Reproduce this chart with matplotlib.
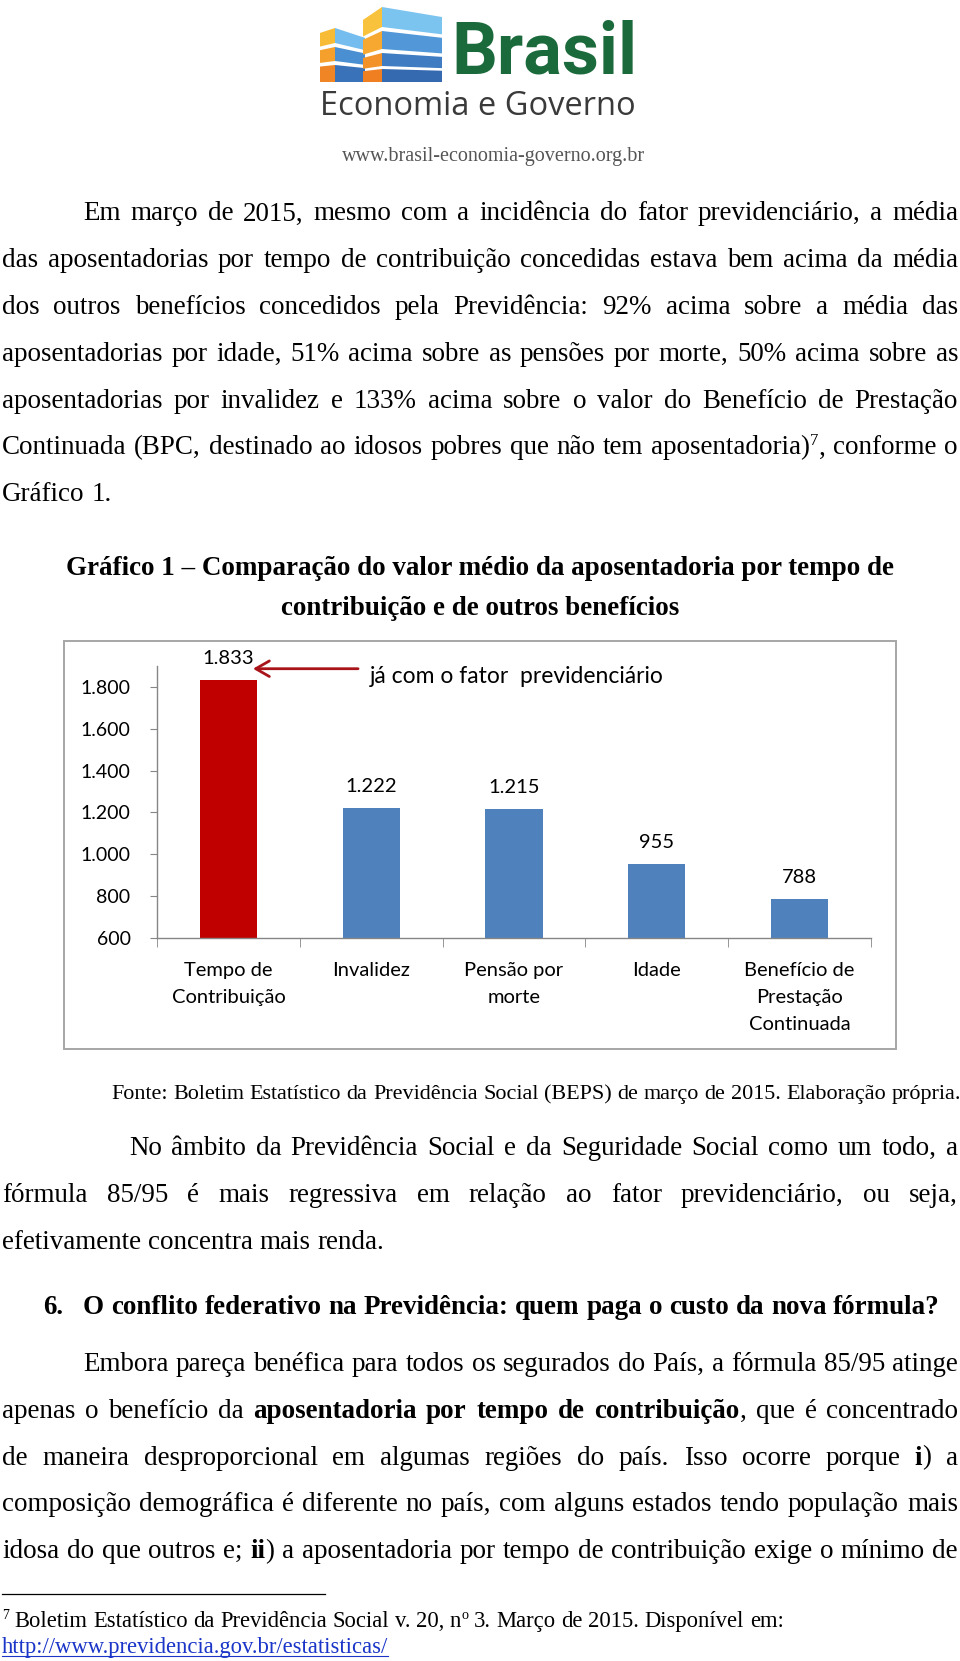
import re

import matplotlib
matplotlib.use("Agg")
import matplotlib.pyplot as plt
from matplotlib.patches import Polygon, Rectangle
from matplotlib.lines import Line2D
from matplotlib.ticker import FuncFormatter

W, H = 960, 1661

# chart data
categories = ["Tempo de\nContribuição", "Invalidez", "Pensão por\nmorte",
              "Idade", "Benefício de\nPrestação\nContinuada"]
values = [1833, 1222, 1215, 955, 788]
bar_colors = ["#c00000", "#4f81bd", "#4f81bd", "#4f81bd", "#4f81bd"]
y_ticks = [600, 800, 1000, 1200, 1400, 1600, 1800]
note = "já com o fator  previdenciário"

# page text (** toggles bold, ^x is superscript)
para1 = [
    "Em março de 2015, mesmo com a incidência do fator previdenciário, a média",
    "das aposentadorias por tempo de contribuição concedidas estava bem acima da média",
    "dos outros benefícios concedidos pela Previdência: 92% acima sobre a média das",
    "aposentadorias por idade, 51% acima sobre as pensões por morte, 50% acima sobre as",
    "aposentadorias por invalidez e 133% acima sobre o valor do Benefício de Prestação",
    "Continuada (BPC, destinado ao idosos pobres que não tem aposentadoria)^7, conforme o",
    "Gráfico 1.",
]
title_lines = ["Gráfico 1 – Comparação do valor médio da aposentadoria por tempo de",
               "contribuição e de outros benefícios"]
fonte = "Fonte: Boletim Estatístico da Previdência Social (BEPS) de março de 2015. Elaboração própria."
para2 = [
    "No âmbito da Previdência Social e da Seguridade Social como um todo, a",
    "fórmula 85/95 é mais regressiva em relação ao fator previdenciário, ou seja,",
    "efetivamente concentra mais renda.",
]
heading = "O conflito federativo na Previdência: quem paga o custo da nova fórmula?"
para3 = [
    "Embora pareça benéfica para todos os segurados do País, a fórmula 85/95 atinge",
    "apenas o benefício da **aposentadoria por tempo de contribuição**, que é concentrado",
    "de maneira desproporcional em algumas regiões do país. Isso ocorre porque **i**) a",
    "composição demográfica é diferente no país, com alguns estados tendo população mais",
    "idosa do que outros e; **ii**) a aposentadoria por tempo de contribuição exige o mínimo de",
]
footnote = "^7 Boletim Estatístico da Previdência Social v. 20, n^o 3. Março de 2015. Disponível em:"
url = "http://www.previdencia.gov.br/estatisticas/"

SERIF = ["Liberation Serif", "DejaVu Serif"]
SANS = ["Lato", "DejaVu Sans"]

fig = plt.figure(figsize=(W / 100, H / 100), dpi=100)
renderer = fig.canvas.get_renderer()


def fx(px):
    return px / W


def fy(py):
    return 1 - py / H


_wcache = {}


def text_width(s, size, bold=False, family=SERIF):
    key = (s, size, bold, tuple(family))
    if key not in _wcache:
        t = fig.text(0, 0, s, fontsize=size, family=family,
                     fontweight="bold" if bold else "normal")
        _wcache[key] = t.get_window_extent(renderer).width
        t.remove()
    return _wcache[key]


def fit(s, width, bold=False, family=SERIF):
    return 100 * width / text_width(s, 100, bold, family)


def parse(line):
    words = []
    bold = False
    for w in line.split(" "):
        runs = []
        for part in re.split(r"(\*\*|\^\w)", w):
            if part == "**":
                bold = not bold
            elif part.startswith("^"):
                runs.append((part[1:], bold, True))
            elif part:
                runs.append((part, bold, False))
        words.append(runs)
    return words


def run_width(run, size):
    txt, bold, sup = run
    return text_width(txt, size * 0.62 if sup else size, bold)


def draw_line(line, x0, yb, size, x1=None, bold=False, color="black"):
    words = parse(line)
    if bold:
        words = [[(t, True, s) for t, _, s in w] for w in words]
    widths = [sum(run_width(r, size) for r in w) for w in words]
    if x1 is None or len(words) < 2:
        gap = text_width("a a", size, bold) - text_width("aa", size, bold)
    else:
        gap = (x1 - x0 - sum(widths)) / (len(words) - 1)
    x = x0
    for w, ww in zip(words, widths):
        for run in w:
            txt, b, sup = run
            s = size * 0.62 if sup else size
            y = yb - size * 100 / 72 * 0.36 if sup else yb
            fig.text(fx(x), fy(y), txt, fontsize=s, family=SERIF, color=color,
                     fontweight="bold" if b else "normal",
                     ha="left", va="baseline")
            x += run_width(run, size)
        x += gap


# ---------------- logo ----------------
def building(x_left, x_corner, x_right, y_peak, y_bottom, s_left, s_right,
             floors, blues, oranges):
    span = y_bottom - y_peak
    for (ya, yb), cb, co in zip(floors, blues, oranges):
        la = s_left * (y_bottom - ya) / span * (x_corner - x_left)
        lb = s_left * (y_bottom - yb) / span * (x_corner - x_left)
        ra = s_right * (y_bottom - ya) / span * (x_right - x_corner)
        rb = s_right * (y_bottom - yb) / span * (x_right - x_corner)
        left = [(x_left, ya + la), (x_corner, ya), (x_corner, yb), (x_left, yb + lb)]
        right = [(x_corner, ya), (x_right, ya + ra), (x_right, yb + rb), (x_corner, yb)]
        for pts, c in ((left, co), (right, cb)):
            fig.add_artist(Polygon([(fx(a), fy(b)) for a, b in pts], closed=True,
                                   transform=fig.transFigure, facecolor=c,
                                   edgecolor="none"))


building(320, 335, 365, 28, 82, 0.33, 0.33,
         [(28, 43), (47, 61), (65, 82)],
         ["#74bdee", "#4b8fd3", "#3a72ba"],
         ["#f8bb35", "#f5a02c", "#f08526"])
building(363, 382, 442, 7, 82, 0.68, 0.167,
         [(7, 27), (31, 49), (53, 66), (69, 82)],
         ["#7cc4f0", "#5298d8", "#3f7cc2", "#3569b0"],
         ["#f9c23c", "#f6a830", "#f39228", "#f07f22"])

s_brasil = fit("Brasil", 186, True, ["Roboto"])
fig.text(fx(451), fy(73), "Brasil", fontsize=s_brasil, family=["Roboto"],
         fontweight="bold", color="#1b6a3c", ha="left", va="baseline")
s_eg = fit("Economia e Governo", 316, False, ["Open Sans"])
fig.text(fx(320), fy(115), "Economia e Governo", fontsize=s_eg,
         family=["Open Sans"], color="#3a3a3a", ha="left", va="baseline")
s_site = fit("www.brasil-economia-governo.org.br", 302)
fig.text(fx(342), fy(161), "www.brasil-economia-governo.org.br", fontsize=s_site,
         family=SERIF, color="#555555", ha="left", va="baseline")

# ---------------- body text ----------------
body = fit("efetivamente concentra mais renda.", 382)
LEFT, RIGHT, STEP = 2, 958, 46.8

for i, line in enumerate(para1):
    x0 = 83 if i == 0 else LEFT
    x1 = RIGHT if i < len(para1) - 1 else None
    draw_line(line, x0, 220.5 + STEP * i, body, x1)

for line, yb in zip(title_lines, [575, 615]):
    fig.text(0.5, fy(yb), line, fontsize=body, family=SERIF, fontweight="bold",
             ha="center", va="baseline")

s_fonte = fit(fonte, 848)
draw_line(fonte, 111, 1099, s_fonte)

for i, line in enumerate(para2):
    x0 = 129 if i == 0 else LEFT
    x1 = RIGHT if i < len(para2) - 1 else None
    draw_line(line, x0, 1155 + STEP * i, body, x1)

fig.text(fx(43), fy(1314), "6.", fontsize=body, family=SERIF, fontweight="bold",
         ha="left", va="baseline")
draw_line(heading, 83, 1314, body, bold=True)

for i, line in enumerate(para3):
    x0 = 83 if i == 0 else LEFT
    draw_line(line, x0, 1371 + STEP * i, body, RIGHT)

fig.add_artist(Line2D([fx(2), fx(325)], [fy(1594), fy(1594)], color="black",
                      lw=0.9, transform=fig.transFigure))
s_foot = fit(url, 386)
draw_line(footnote, 2, 1627, s_foot)
fig.text(fx(2), fy(1653), url, fontsize=s_foot, family=SERIF, color="#1a35c8",
         ha="left", va="baseline")
fig.add_artist(Line2D([fx(2), fx(2 + text_width(url, s_foot))], [fy(1656), fy(1656)],
                      color="#1a35c8", lw=0.8, transform=fig.transFigure))

# ---------------- chart ----------------
fig.add_artist(Rectangle((fx(64), fy(1049)), (896 - 64) / W, (1049 - 641) / H,
                         transform=fig.transFigure, fill=False,
                         edgecolor="#a6a6a6", lw=1.4))

ax = fig.add_axes([fx(157), fy(938), (871 - 157) / W, (938 - 666) / H])
x = list(range(len(values)))
ax.bar(x, values, width=0.4, color=bar_colors)
ax.set_xlim(-0.5, len(values) - 0.5)
ax.set_ylim(600, 1900)
ax.set_yticks(y_ticks)
ax.yaxis.set_major_formatter(FuncFormatter(lambda v, p: f"{v:,.0f}".replace(",", ".")))
ax.set_xticks(x)
ax.set_xticklabels(categories, linespacing=1.72)
ax.set_xticks([i - 0.5 for i in range(len(values) + 1)], minor=True)

axis_gray = "#868686"
for side in ("top", "right"):
    ax.spines[side].set_visible(False)
for side in ("left", "bottom"):
    ax.spines[side].set_color(axis_gray)
    ax.spines[side].set_linewidth(1.0)
ax.tick_params(axis="y", direction="out", length=5, color=axis_gray, pad=14,
               labelsize=14)
ax.tick_params(axis="x", which="major", length=0, pad=17, labelsize=14.5)
ax.tick_params(axis="x", which="minor", direction="out", length=6.5,
               color=axis_gray)
for lab in ax.get_xticklabels() + ax.get_yticklabels():
    lab.set_family(SANS)

for xi, v in zip(x, values):
    ax.annotate(f"{v:,}".replace(",", "."), (xi, v), xytext=(0, 15.5),
                textcoords="offset points", ha="center", va="center",
                fontsize=14.5, family=SANS)

ax.annotate("", xy=(0.172, 1887), xytext=(0.908, 1887),
            arrowprops=dict(arrowstyle="->,head_length=0.7,head_width=0.4",
                            color="#a8141a", lw=2, shrinkA=0, shrinkB=0,
                            mutation_scale=14),
            annotation_clip=False)
ax.text(0.99, 1849, note, ha="left", va="center", fontsize=16.5, family=SANS)

fig.savefig("out.png", dpi=100)
